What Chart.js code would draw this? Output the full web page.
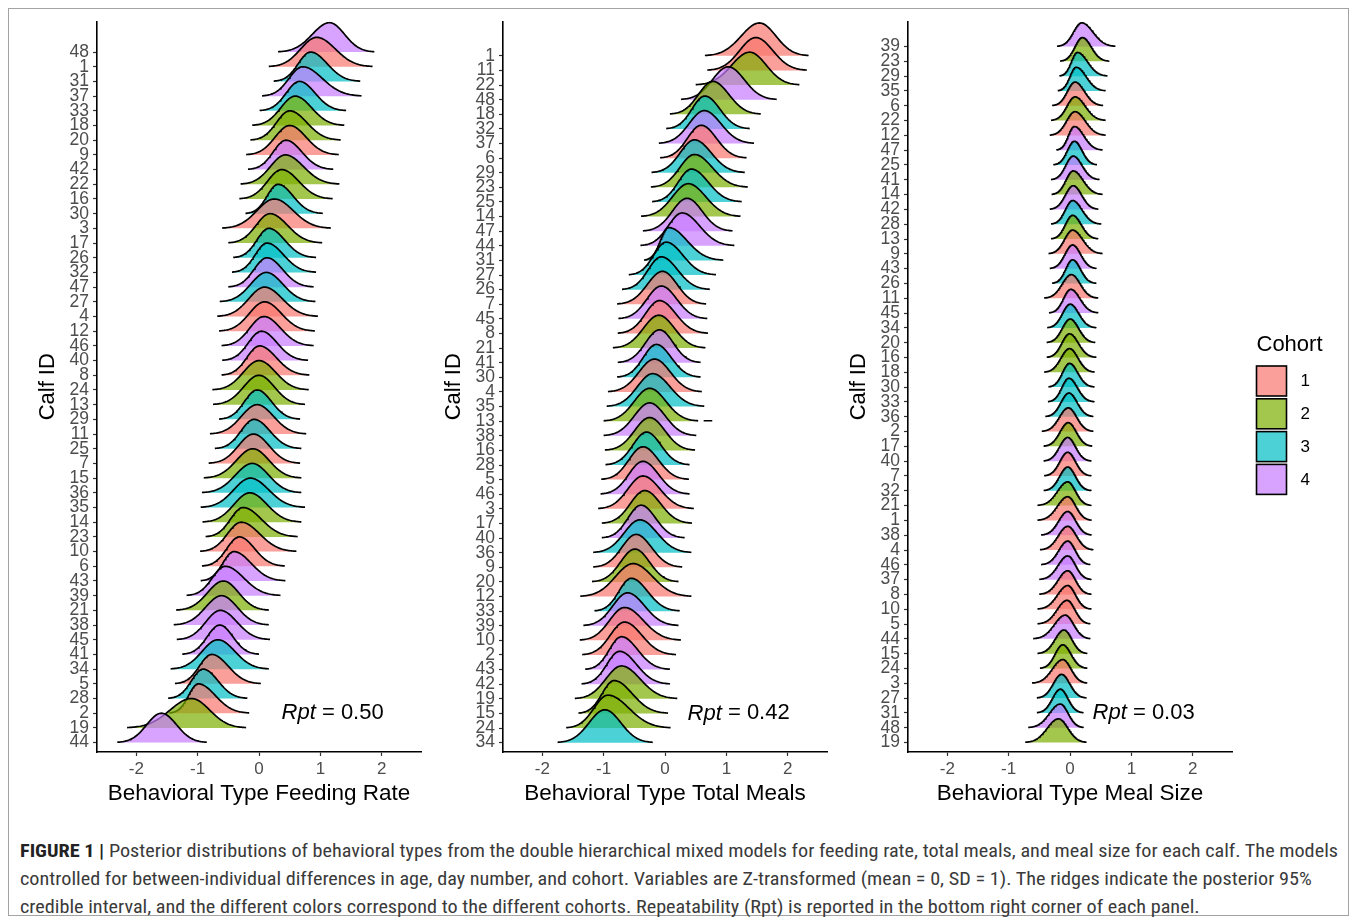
<!DOCTYPE html>
<html>
<head>
<meta charset="utf-8">
<title>Behavioral types per calf</title>
<script src="https://cdn.jsdelivr.net/npm/chart.js@4.4.1/dist/chart.umd.min.js"></script>
<style>
  html, body { margin: 0; padding: 0; background: #fff; }
  body { width: 1358px; height: 920px; position: relative; overflow: hidden; }
  .frame { position: absolute; left: 8px; top: 8px; width: 1341px; height: 908px; border: 1px solid #a3a3a3; box-sizing: border-box; }
  canvas { position: absolute; top: 0; }
  .cap { position: absolute; left: 20px; white-space: nowrap; display: inline-block;
         font-family: "Liberation Sans Narrow", "Roboto Condensed", "Liberation Sans", Arial, sans-serif;
         font-size: 17.5px; line-height: 28px; color: #3a3a3a; transform-origin: 0 50%; }
  .cap b { color: #222; }
</style>
</head>
<body>
<div class="frame"></div>
<canvas id="feeding" width="414" height="812" style="left:16px"></canvas>
<canvas id="meals" width="414" height="812" style="left:422px"></canvas>
<canvas id="mealsize" width="531" height="812" style="left:827px"></canvas>

<div class="cap" style="top:837px"><b>FIGURE 1 |</b> Posterior distributions of behavioral types from the double hierarchical mixed models for feeding rate, total meals, and meal size for each calf. The models</div>
<div class="cap" style="top:865px">controlled for between-individual differences in age, day number, and cohort. Variables are Z-transformed (mean = 0, SD = 1). The ridges indicate the posterior 95%</div>
<div class="cap" style="top:893px">credible interval, and the different colors correspond to the different cohorts. Repeatability (Rpt) is reported in the bottom right corner of each panel.</div>

<script>
// ridgeline panels: one ridge per calf, coloured by cohort

const FONT = "'Liberation Sans', Arial, sans-serif";
const cohortColors = ['#F8766D', '#7CAE00', '#00BFC4', '#C77CFF'];
const cohortNames = ['1', '2', '3', '4'];

// cohort of calf 1..48 (index = id - 1)
const cohortByCalf = [
  1, 1, 1, 1, 1, 1, 1, 1, 1, 1, 1, 1,
  2, 2, 2, 2, 2, 2, 2, 2, 2, 2, 2, 2,
  3, 3, 3, 3, 3, 3, 3, 3, 3, 3, 3, 3,
  4, 4, 4, 4, 4, 4, 4, 4, 4, 4, 4, 4
];

// ---- Feeding rate (rows listed top to bottom) ----
const feedIds  = [48, 1, 31, 37, 33, 18, 20, 9, 42, 22, 16, 30, 3, 17, 26, 32, 47, 27, 4, 12, 46, 40, 8, 24,
                  13, 29, 11, 25, 7, 15, 36, 35, 14, 23, 10, 6, 43, 39, 21, 38, 45, 41, 34, 5, 28, 2, 19, 44];
const feedPeak = [1.15, 0.94, 0.84, 0.71, 0.66, 0.59, 0.50, 0.50, 0.44, 0.43, 0.37, 0.31, 0.25, 0.18, 0.16, 0.13,
                  0.13, 0.12, 0.09, 0.09, 0.08, 0.04, 0.01, 0.00, 0.00, -0.03, -0.03, -0.08, -0.09, -0.10, -0.11, -0.14,
                  -0.15, -0.26, -0.29, -0.32, -0.41, -0.55, -0.58, -0.61, -0.63, -0.64, -0.67, -0.77, -0.91, -0.99, -1.10, -1.59];
const feedLo   = [0.31, 0.16, 0.24, 0.05, 0.01, -0.11, -0.14, -0.21, -0.18, -0.30, -0.32, -0.22, -0.60, -0.50, -0.42, -0.44,
                  -0.50, -0.64, -0.68, -0.65, -0.61, -0.60, -0.61, -0.76, -0.75, -0.65, -0.80, -0.72, -0.82, -0.90, -0.93, -0.95,
                  -0.92, -0.87, -0.96, -0.93, -0.95, -1.18, -1.35, -1.39, -1.34, -1.25, -1.44, -1.37, -1.48, -1.46, -2.15, -2.31];
const feedHi   = [1.88, 1.85, 1.65, 1.67, 1.42, 1.39, 1.33, 1.30, 1.21, 1.31, 1.20, 1.04, 1.17, 1.03, 0.93, 0.93,
                  0.89, 0.92, 0.96, 0.91, 0.89, 0.80, 0.82, 0.81, 0.75, 0.67, 0.77, 0.69, 0.67, 0.69, 0.69, 0.75,
                  0.69, 0.63, 0.61, 0.42, 0.43, 0.35, 0.16, 0.16, 0.18, 0.00, 0.16, 0.03, -0.19, -0.16, -0.21, -0.85];

// ---- Total meals ----
const mealIds  = [1, 11, 22, 48, 18, 32, 37, 6, 29, 23, 25, 14, 47, 44, 31, 27, 26, 7, 45, 8, 21, 41, 30, 4,
                  35, 13, 38, 16, 28, 5, 46, 3, 17, 40, 36, 9, 20, 12, 33, 39, 10, 2, 43, 42, 19, 15, 24, 34];
const mealPeak = [1.54, 1.48, 1.38, 1.03, 0.78, 0.65, 0.64, 0.59, 0.48, 0.48, 0.43, 0.38, 0.36, 0.28, 0.06, 0.02,
                  -0.06, -0.04, -0.06, -0.09, -0.10, -0.09, -0.14, -0.17, -0.20, -0.25, -0.25, -0.25, -0.30, -0.36, -0.36, -0.36,
                  -0.33, -0.39, -0.41, -0.47, -0.49, -0.52, -0.55, -0.61, -0.66, -0.66, -0.71, -0.74, -0.71, -0.83, -0.93, -0.98];
const mealLo   = [0.65, 0.69, 0.50, 0.26, 0.08, 0.02, -0.10, -0.08, -0.22, -0.23, -0.21, -0.39, -0.36, -0.40, -0.34, -0.59,
                  -0.70, -0.78, -0.76, -0.77, -0.85, -0.77, -0.78, -0.93, -0.95, -1.00, -1.00, -0.98, -0.97, -1.04, -1.05, -1.09,
                  -1.03, -1.03, -1.17, -1.17, -1.19, -1.38, -1.15, -1.33, -1.39, -1.35, -1.30, -1.36, -1.47, -1.41, -1.61, -1.75];
const mealHi   = [2.34, 2.31, 2.19, 1.82, 1.56, 1.38, 1.45, 1.33, 1.30, 1.35, 1.25, 1.23, 1.10, 1.13, 0.95, 0.83,
                  0.73, 0.67, 0.69, 0.70, 0.66, 0.58, 0.58, 0.60, 0.64, 0.54, 0.51, 0.49, 0.40, 0.39, 0.40, 0.47,
                  0.44, 0.32, 0.43, 0.28, 0.22, 0.43, 0.24, 0.22, 0.26, 0.18, 0.08, 0.08, 0.20, 0.05, 0.09, -0.20];
// detached bit of the density line to the right of calf 13
const mealTail13 = [0.63, 0.77];

// ---- Meal size ----
const sizeIds  = [39, 23, 29, 35, 6, 22, 12, 47, 25, 41, 14, 42, 28, 13, 9, 43, 26, 11, 45, 34, 20, 16, 18, 30,
                  33, 36, 2, 17, 40, 7, 32, 21, 1, 38, 4, 46, 37, 8, 10, 5, 44, 15, 24, 3, 27, 31, 48, 19];
const sizePeak = [0.19, 0.20, 0.12, 0.10, 0.08, 0.08, 0.08, 0.07, 0.07, 0.05, 0.05, 0.05, 0.04, 0.04, 0.04, 0.04,
                  0.04, 0.02, 0.01, 0.00, 0.00, -0.01, -0.01, -0.01, -0.02, -0.02, -0.03, -0.03, -0.04, -0.04, -0.04, -0.04,
                  -0.04, -0.04, -0.04, -0.04, -0.04, -0.04, -0.04, -0.05, -0.08, -0.10, -0.12, -0.12, -0.14, -0.16, -0.16, -0.19];
const sizeLo   = [-0.21, -0.16, -0.17, -0.20, -0.29, -0.31, -0.33, -0.22, -0.27, -0.31, -0.30, -0.33, -0.31, -0.31, -0.35, -0.33,
                  -0.29, -0.42, -0.34, -0.37, -0.38, -0.38, -0.42, -0.35, -0.36, -0.40, -0.46, -0.43, -0.43, -0.42, -0.43, -0.53,
                  -0.53, -0.47, -0.49, -0.47, -0.50, -0.50, -0.53, -0.53, -0.60, -0.53, -0.49, -0.62, -0.54, -0.54, -0.68, -0.73];
const sizeHi   = [0.74, 0.63, 0.61, 0.58, 0.54, 0.58, 0.58, 0.53, 0.44, 0.48, 0.53, 0.46, 0.50, 0.46, 0.53, 0.43,
                  0.42, 0.45, 0.46, 0.42, 0.41, 0.42, 0.40, 0.39, 0.39, 0.38, 0.38, 0.36, 0.34, 0.34, 0.34, 0.34,
                  0.35, 0.35, 0.38, 0.33, 0.34, 0.34, 0.34, 0.33, 0.33, 0.28, 0.28, 0.28, 0.26, 0.21, 0.22, 0.27];

const xTicks = [-2, -1, 0, 1, 2];
const repeatability = ['0.50', '0.42', '0.03'];
const rptAt = { x: 1.2, row: 2 };

/* ─── helpers ─────────────────────────────────────────── */
function hexAlpha(hex, a) {
  const r = parseInt(hex.slice(1, 3), 16);
  const g = parseInt(hex.slice(3, 5), 16);
  const b = parseInt(hex.slice(5, 7), 16);
  return `rgba(${r},${g},${b},${a})`;
}

// split-normal ridge through lo .. peak .. hi, sitting on row `base`
function ridgePoints(lo, peak, hi, base, height) {
  const pts = [];
  const n = 45;
  const sdL = (peak - lo) / 3, sdR = (hi - peak) / 3;
  for (let k = 0; k <= n; k++) {
    const x = lo + (peak - lo) * k / n;
    const z = (x - peak) / sdL;
    pts.push({ x, y: base + height * Math.exp(-0.5 * z * z) });
  }
  for (let k = 1; k <= n; k++) {
    const x = peak + (hi - peak) * k / n;
    const z = (x - peak) / sdR;
    pts.push({ x, y: base + height * Math.exp(-0.5 * z * z) });
  }
  return pts;
}

/* ─── Rpt annotation ─────────────────────────────────── */
const rptLabel = {
  id: 'rptLabel',
  afterDatasetsDraw(chart, args, opts) {
    const { ctx, scales: { x, y } } = chart;
    const px = x.getPixelForValue(rptAt.x);
    const py = y.getPixelForValue(rptAt.row);
    const rest = ' = ' + opts.value;
    ctx.save();
    ctx.font = `italic 22px ${FONT}`;
    const w1 = ctx.measureText('Rpt').width;
    ctx.font = `22px ${FONT}`;
    const w2 = ctx.measureText(rest).width;
    const left = px - (w1 + w2) / 2;
    ctx.fillStyle = '#000';
    ctx.textBaseline = 'middle';
    ctx.textAlign = 'left';
    ctx.font = `italic 22px ${FONT}`;
    ctx.fillText('Rpt', left, py);
    ctx.font = `22px ${FONT}`;
    ctx.fillText(rest, left + w1, py);
    ctx.restore();
  }
};

/* ─── Cohort legend, right of the last panel ─────────── */
const cohortLegend = {
  id: 'cohortLegend',
  afterDraw(chart, args, opts) {
    if (!opts.show) return;
    const { ctx, chartArea } = chart;
    const left = chartArea.right + 24.5;
    ctx.save();
    ctx.fillStyle = '#000';
    ctx.font = `22px ${FONT}`;
    ctx.textBaseline = 'alphabetic';
    ctx.fillText('Cohort', left, 351);
    const size = 30, pitch = 32.8, top = 366;
    cohortColors.forEach((c, i) => {
      const y0 = top + i * pitch;
      ctx.fillStyle = '#fff';
      ctx.fillRect(left, y0, size, size);
      ctx.fillStyle = hexAlpha(c, 0.7);
      ctx.fillRect(left, y0, size, size);
      ctx.strokeStyle = '#000';
      ctx.lineWidth = 1.6;
      ctx.strokeRect(left, y0, size, size);
      ctx.fillStyle = '#000';
      ctx.font = `17px ${FONT}`;
      ctx.textBaseline = 'middle';
      ctx.fillText(cohortNames[i], left + size + 14, y0 + size / 2 + 0.5);
    });
    ctx.restore();
  }
};

/* ─── one ridgeline panel ────────────────────────────── */
function buildPanel(canvasId, ids, lo, peak, hi, cfg) {
  const canvas = document.getElementById(canvasId);
  const n = ids.length;
  const rowLabels = ids.slice().reverse();   // row 0 = bottom
  const datasets = [];
  for (let r = 0; r < n; r++) {
    const i = n - 1 - r;                       // index in the top-to-bottom lists
    const col = cohortColors[cohortByCalf[ids[i] - 1] - 1];
    datasets.push({
      data: ridgePoints(lo[i], peak[i], hi[i], r, cfg.ridgeHeight),
      borderColor: '#000',
      borderWidth: 1.7,
      backgroundColor: hexAlpha(col, 0.7),
      fill: { value: r },
      pointRadius: 0,
      tension: 0,
      borderJoinStyle: 'round'
    });
  }
  (cfg.extraLines || []).forEach(seg => {
    const r = rowLabels.indexOf(seg.calf);
    datasets.unshift({
      data: [{ x: seg.from, y: r + 0.03 }, { x: seg.to, y: r + 0.03 }],
      borderColor: '#000', borderWidth: 1.7, pointRadius: 0, fill: false
    });
  });

  return new Chart(canvas, {
    type: 'line',
    data: { datasets },
    plugins: [rptLabel, cohortLegend],
    options: {
      responsive: false,
      animation: false,
      events: [],
      layout: { padding: { top: 21.5, right: cfg.padRight, bottom: 0, left: 0 } },
      plugins: {
        legend: { display: false },
        tooltip: { enabled: false },
        rptLabel: { value: cfg.rpt },
        cohortLegend: { show: !!cfg.legend }
      },
      scales: {
        x: {
          type: 'linear',
          min: -2.64, max: 2.64,
          bounds: 'data',
          afterBuildTicks: axis => { axis.ticks = xTicks.map(v => ({ value: v })); },
          afterFit: axis => { axis.height = 60; },
          ticks: { color: '#4d4d4d', font: { family: FONT, size: 17 }, padding: 3,
                   callback: v => String(v) },
          grid: { drawOnChartArea: false, drawTicks: true, tickLength: 4, tickColor: '#333', tickWidth: 1.2 },
          border: { display: true, color: '#000', width: 1.6 },
          title: { display: true, text: cfg.xTitle, color: '#000',
                   font: { family: FONT, size: 22.5 }, padding: { top: 0, bottom: 4.5 } }
        },
        y: {
          type: 'linear',
          min: -0.64, max: cfg.yMax,
          bounds: 'data',
          afterBuildTicks: axis => { axis.ticks = rowLabels.map((_, r) => ({ value: r })); },
          afterFit: axis => { axis.width = 81; },
          ticks: { autoSkip: false, color: '#4d4d4d', font: { family: FONT, size: 17.5 }, padding: 4,
                   callback: v => String(rowLabels[v]) },
          grid: { drawOnChartArea: false, drawTicks: true, tickLength: 4, tickColor: '#333', tickWidth: 1.2 },
          border: { display: true, color: '#000', width: 1.6 },
          title: { display: true, text: 'Calf ID', color: '#000',
                   font: { family: FONT, size: 22 }, padding: { top: 19, bottom: 0 } }
        }
      }
    }
  });
}

buildPanel('feeding', feedIds, feedLo, feedPeak, feedHi, {
  ridgeHeight: 2.0, yMax: 49.08, padRight: 9, rpt: repeatability[0],
  xTitle: 'Behavioral Type Feeding Rate'
});
buildPanel('meals', mealIds, mealLo, mealPeak, mealHi, {
  ridgeHeight: 2.25, yMax: 49.35, padRight: 9, rpt: repeatability[1],
  xTitle: 'Behavioral Type Total Meals',
  extraLines: [{ calf: 13, from: mealTail13[0], to: mealTail13[1] }]
});
buildPanel('mealsize', sizeIds, sizeLo, sizePeak, sizeHi, {
  ridgeHeight: 1.6, yMax: 48.69, padRight: 126, rpt: repeatability[2],
  xTitle: 'Behavioral Type Meal Size', legend: true
});

// stretch caption lines to the printed line width
(function fitCaption() {
  const lines = document.querySelectorAll('.cap');
  const s = 1318 / lines[0].getBoundingClientRect().width;
  lines.forEach(el => { el.style.transform = `scaleX(${s})`; });
})();
</script>
</body>
</html>
